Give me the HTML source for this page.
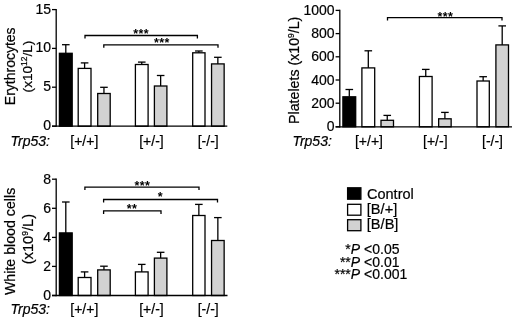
<!DOCTYPE html>
<html><head><meta charset="utf-8"><title>Figure</title>
<style>
html,body{margin:0;padding:0;background:#fff;}
svg{display:block;}
svg text{font-family:"Liberation Sans", Arial, sans-serif;fill:#000;stroke:#000;stroke-width:0.2px;}
</style></head><body>
<svg width="520" height="318" viewBox="0 0 520 318">
<rect width="520" height="318" fill="#fff"/>
<line x1="52.00" y1="9.60" x2="56.20" y2="9.60" stroke="#000" stroke-width="1.3"/>
<text x="51.00" y="13.60" font-size="14" text-anchor="end">15</text>
<line x1="52.00" y1="48.40" x2="56.20" y2="48.40" stroke="#000" stroke-width="1.3"/>
<text x="51.00" y="52.40" font-size="14" text-anchor="end">10</text>
<line x1="52.00" y1="87.20" x2="56.20" y2="87.20" stroke="#000" stroke-width="1.3"/>
<text x="51.00" y="91.20" font-size="14" text-anchor="end">5</text>
<line x1="52.00" y1="126.20" x2="56.20" y2="126.20" stroke="#000" stroke-width="1.3"/>
<text x="51.00" y="130.20" font-size="14" text-anchor="end">0</text>
<line x1="65.80" y1="53.30" x2="65.80" y2="44.70" stroke="#000" stroke-width="1.3"/>
<line x1="62.00" y1="44.70" x2="69.60" y2="44.70" stroke="#000" stroke-width="1.3"/>
<rect x="59.40" y="53.30" width="12.80" height="72.90" fill="#000" stroke="#000" stroke-width="1.3"/>
<line x1="84.60" y1="68.40" x2="84.60" y2="62.90" stroke="#000" stroke-width="1.3"/>
<line x1="80.80" y1="62.90" x2="88.40" y2="62.90" stroke="#000" stroke-width="1.3"/>
<rect x="78.20" y="68.40" width="12.80" height="57.80" fill="#fff" stroke="#000" stroke-width="1.3"/>
<line x1="103.95" y1="93.50" x2="103.95" y2="87.30" stroke="#000" stroke-width="1.3"/>
<line x1="100.15" y1="87.30" x2="107.75" y2="87.30" stroke="#000" stroke-width="1.3"/>
<rect x="97.70" y="93.50" width="12.50" height="32.70" fill="#d2d2d2" stroke="#000" stroke-width="1.3"/>
<line x1="141.75" y1="64.50" x2="141.75" y2="62.10" stroke="#000" stroke-width="1.3"/>
<line x1="137.95" y1="62.10" x2="145.55" y2="62.10" stroke="#000" stroke-width="1.3"/>
<rect x="135.40" y="64.50" width="12.70" height="61.70" fill="#fff" stroke="#000" stroke-width="1.3"/>
<line x1="160.65" y1="86.00" x2="160.65" y2="75.50" stroke="#000" stroke-width="1.3"/>
<line x1="156.85" y1="75.50" x2="164.45" y2="75.50" stroke="#000" stroke-width="1.3"/>
<rect x="154.40" y="86.00" width="12.50" height="40.20" fill="#d2d2d2" stroke="#000" stroke-width="1.3"/>
<line x1="198.85" y1="52.80" x2="198.85" y2="51.00" stroke="#000" stroke-width="1.3"/>
<line x1="195.05" y1="51.00" x2="202.65" y2="51.00" stroke="#000" stroke-width="1.3"/>
<rect x="192.70" y="52.80" width="12.30" height="73.40" fill="#fff" stroke="#000" stroke-width="1.3"/>
<line x1="217.85" y1="63.90" x2="217.85" y2="57.30" stroke="#000" stroke-width="1.3"/>
<line x1="214.05" y1="57.30" x2="221.65" y2="57.30" stroke="#000" stroke-width="1.3"/>
<rect x="211.55" y="63.90" width="12.60" height="62.30" fill="#d2d2d2" stroke="#000" stroke-width="1.3"/>
<line x1="56.20" y1="8.95" x2="56.20" y2="126.85" stroke="#000" stroke-width="1.3"/>
<line x1="52.00" y1="126.20" x2="227.30" y2="126.20" stroke="#000" stroke-width="1.3"/>
<polyline points="85.0,38.5 85.0,35.5 197.4,35.5 197.4,38.5" fill="none" stroke="#000" stroke-width="1.3"/>
<polyline points="103.8,47.8 103.8,44.8 218,44.8 218,47.8" fill="none" stroke="#000" stroke-width="1.3"/>
<text x="141.20" y="38.10" font-size="12.5" font-weight="bold" letter-spacing="0.4" stroke="none" text-anchor="middle" style="stroke:none">***</text>
<text x="161.90" y="47.20" font-size="12.5" font-weight="bold" letter-spacing="0.4" stroke="none" text-anchor="middle" style="stroke:none">***</text>
<text transform="translate(15,66.3) rotate(-90)" font-size="14" text-anchor="middle">Erythrocytes</text>
<text transform="translate(31.5,66.5) rotate(-90)" font-size="13.6" text-anchor="middle">(x10<tspan font-size="8.5" dy="-5">12</tspan><tspan dy="5">/L)</tspan></text>
<text x="10.50" y="146.40" font-size="14" text-anchor="start" font-style="italic">Trp53:</text>
<text x="84.30" y="146.40" font-size="14" text-anchor="middle">[+/+]</text>
<text x="151.50" y="146.40" font-size="14" text-anchor="middle">[+/-]</text>
<text x="208.20" y="146.40" font-size="14" text-anchor="middle">[-/-]</text>
<line x1="335.60" y1="10.40" x2="339.80" y2="10.40" stroke="#000" stroke-width="1.3"/>
<text x="334.60" y="15.00" font-size="14" text-anchor="end">1000</text>
<line x1="335.60" y1="33.60" x2="339.80" y2="33.60" stroke="#000" stroke-width="1.3"/>
<text x="334.60" y="38.20" font-size="14" text-anchor="end">800</text>
<line x1="335.60" y1="56.80" x2="339.80" y2="56.80" stroke="#000" stroke-width="1.3"/>
<text x="334.60" y="61.40" font-size="14" text-anchor="end">600</text>
<line x1="335.60" y1="80.00" x2="339.80" y2="80.00" stroke="#000" stroke-width="1.3"/>
<text x="334.60" y="84.60" font-size="14" text-anchor="end">400</text>
<line x1="335.60" y1="103.20" x2="339.80" y2="103.20" stroke="#000" stroke-width="1.3"/>
<text x="334.60" y="107.80" font-size="14" text-anchor="end">200</text>
<line x1="335.60" y1="126.80" x2="339.80" y2="126.80" stroke="#000" stroke-width="1.3"/>
<text x="334.60" y="131.40" font-size="14" text-anchor="end">0</text>
<line x1="349.30" y1="96.80" x2="349.30" y2="89.50" stroke="#000" stroke-width="1.3"/>
<line x1="345.50" y1="89.50" x2="353.10" y2="89.50" stroke="#000" stroke-width="1.3"/>
<rect x="342.90" y="96.80" width="12.80" height="30.00" fill="#000" stroke="#000" stroke-width="1.3"/>
<line x1="368.30" y1="67.90" x2="368.30" y2="50.80" stroke="#000" stroke-width="1.3"/>
<line x1="364.50" y1="50.80" x2="372.10" y2="50.80" stroke="#000" stroke-width="1.3"/>
<rect x="361.90" y="67.90" width="12.80" height="58.90" fill="#fff" stroke="#000" stroke-width="1.3"/>
<line x1="387.25" y1="120.30" x2="387.25" y2="115.40" stroke="#000" stroke-width="1.3"/>
<line x1="383.45" y1="115.40" x2="391.05" y2="115.40" stroke="#000" stroke-width="1.3"/>
<rect x="381.00" y="120.30" width="12.50" height="6.50" fill="#d2d2d2" stroke="#000" stroke-width="1.3"/>
<line x1="425.75" y1="76.50" x2="425.75" y2="69.40" stroke="#000" stroke-width="1.3"/>
<line x1="421.95" y1="69.40" x2="429.55" y2="69.40" stroke="#000" stroke-width="1.3"/>
<rect x="419.40" y="76.50" width="12.70" height="50.30" fill="#fff" stroke="#000" stroke-width="1.3"/>
<line x1="444.90" y1="118.80" x2="444.90" y2="112.40" stroke="#000" stroke-width="1.3"/>
<line x1="441.10" y1="112.40" x2="448.70" y2="112.40" stroke="#000" stroke-width="1.3"/>
<rect x="438.65" y="118.80" width="12.50" height="8.00" fill="#d2d2d2" stroke="#000" stroke-width="1.3"/>
<line x1="483.15" y1="81.00" x2="483.15" y2="76.70" stroke="#000" stroke-width="1.3"/>
<line x1="479.35" y1="76.70" x2="486.95" y2="76.70" stroke="#000" stroke-width="1.3"/>
<rect x="477.00" y="81.00" width="12.30" height="45.80" fill="#fff" stroke="#000" stroke-width="1.3"/>
<line x1="502.20" y1="44.90" x2="502.20" y2="25.90" stroke="#000" stroke-width="1.3"/>
<line x1="498.40" y1="25.90" x2="506.00" y2="25.90" stroke="#000" stroke-width="1.3"/>
<rect x="495.90" y="44.90" width="12.60" height="81.90" fill="#d2d2d2" stroke="#000" stroke-width="1.3"/>
<line x1="339.80" y1="9.75" x2="339.80" y2="127.45" stroke="#000" stroke-width="1.3"/>
<line x1="335.60" y1="126.80" x2="512.00" y2="126.80" stroke="#000" stroke-width="1.3"/>
<polyline points="387.5,20.6 387.5,17.6 502,17.6 502,20.6" fill="none" stroke="#000" stroke-width="1.3"/>
<text x="445.50" y="21.10" font-size="12.5" font-weight="bold" letter-spacing="0.4" stroke="none" text-anchor="middle" style="stroke:none">***</text>
<text transform="translate(298.6,70.3) rotate(-90)" font-size="14.2" text-anchor="middle">Platelets (x10<tspan font-size="8.5" dy="-5">9</tspan><tspan dy="5">/L)</tspan></text>
<text x="292.40" y="146.40" font-size="14" text-anchor="start" font-style="italic">Trp53:</text>
<text x="369.00" y="146.40" font-size="14" text-anchor="middle">[+/+]</text>
<text x="435.30" y="146.40" font-size="14" text-anchor="middle">[+/-]</text>
<text x="492.50" y="146.40" font-size="14" text-anchor="middle">[-/-]</text>
<line x1="52.00" y1="179.20" x2="56.20" y2="179.20" stroke="#000" stroke-width="1.3"/>
<text x="51.00" y="183.50" font-size="14" text-anchor="end">8</text>
<line x1="52.00" y1="208.30" x2="56.20" y2="208.30" stroke="#000" stroke-width="1.3"/>
<text x="51.00" y="212.60" font-size="14" text-anchor="end">6</text>
<line x1="52.00" y1="237.40" x2="56.20" y2="237.40" stroke="#000" stroke-width="1.3"/>
<text x="51.00" y="241.70" font-size="14" text-anchor="end">4</text>
<line x1="52.00" y1="266.40" x2="56.20" y2="266.40" stroke="#000" stroke-width="1.3"/>
<text x="51.00" y="270.70" font-size="14" text-anchor="end">2</text>
<line x1="52.00" y1="295.50" x2="56.20" y2="295.50" stroke="#000" stroke-width="1.3"/>
<text x="51.00" y="299.80" font-size="14" text-anchor="end">0</text>
<line x1="65.80" y1="232.90" x2="65.80" y2="202.00" stroke="#000" stroke-width="1.3"/>
<line x1="62.00" y1="202.00" x2="69.60" y2="202.00" stroke="#000" stroke-width="1.3"/>
<rect x="59.40" y="232.90" width="12.80" height="62.60" fill="#000" stroke="#000" stroke-width="1.3"/>
<line x1="84.60" y1="277.50" x2="84.60" y2="271.90" stroke="#000" stroke-width="1.3"/>
<line x1="80.80" y1="271.90" x2="88.40" y2="271.90" stroke="#000" stroke-width="1.3"/>
<rect x="78.20" y="277.50" width="12.80" height="18.00" fill="#fff" stroke="#000" stroke-width="1.3"/>
<line x1="103.95" y1="269.90" x2="103.95" y2="266.20" stroke="#000" stroke-width="1.3"/>
<line x1="100.15" y1="266.20" x2="107.75" y2="266.20" stroke="#000" stroke-width="1.3"/>
<rect x="97.70" y="269.90" width="12.50" height="25.60" fill="#d2d2d2" stroke="#000" stroke-width="1.3"/>
<line x1="141.75" y1="271.90" x2="141.75" y2="264.40" stroke="#000" stroke-width="1.3"/>
<line x1="137.95" y1="264.40" x2="145.55" y2="264.40" stroke="#000" stroke-width="1.3"/>
<rect x="135.40" y="271.90" width="12.70" height="23.60" fill="#fff" stroke="#000" stroke-width="1.3"/>
<line x1="160.65" y1="258.10" x2="160.65" y2="252.30" stroke="#000" stroke-width="1.3"/>
<line x1="156.85" y1="252.30" x2="164.45" y2="252.30" stroke="#000" stroke-width="1.3"/>
<rect x="154.40" y="258.10" width="12.50" height="37.40" fill="#d2d2d2" stroke="#000" stroke-width="1.3"/>
<line x1="198.85" y1="215.50" x2="198.85" y2="204.40" stroke="#000" stroke-width="1.3"/>
<line x1="195.05" y1="204.40" x2="202.65" y2="204.40" stroke="#000" stroke-width="1.3"/>
<rect x="192.70" y="215.50" width="12.30" height="80.00" fill="#fff" stroke="#000" stroke-width="1.3"/>
<line x1="217.85" y1="240.50" x2="217.85" y2="217.60" stroke="#000" stroke-width="1.3"/>
<line x1="214.05" y1="217.60" x2="221.65" y2="217.60" stroke="#000" stroke-width="1.3"/>
<rect x="211.55" y="240.50" width="12.60" height="55.00" fill="#d2d2d2" stroke="#000" stroke-width="1.3"/>
<line x1="56.20" y1="178.55" x2="56.20" y2="296.15" stroke="#000" stroke-width="1.3"/>
<line x1="52.00" y1="295.50" x2="227.50" y2="295.50" stroke="#000" stroke-width="1.3"/>
<polyline points="84.9,190.1 84.9,187.1 199,187.1 199,190.1" fill="none" stroke="#000" stroke-width="1.3"/>
<polyline points="103.6,202.5 103.6,199.5 217.5,199.5 217.5,202.5" fill="none" stroke="#000" stroke-width="1.3"/>
<polyline points="103.6,213.9 103.6,210.9 161,210.9 161,213.9" fill="none" stroke="#000" stroke-width="1.3"/>
<text x="142.50" y="189.70" font-size="12.5" font-weight="bold" letter-spacing="0.4" stroke="none" text-anchor="middle" style="stroke:none">***</text>
<text x="160.40" y="201.30" font-size="12.5" font-weight="bold" letter-spacing="0.4" stroke="none" text-anchor="middle" style="stroke:none">*</text>
<text x="132.00" y="213.30" font-size="12.5" font-weight="bold" letter-spacing="0.4" stroke="none" text-anchor="middle" style="stroke:none">**</text>
<text transform="translate(15,241.4) rotate(-90)" font-size="14.2" text-anchor="middle">White blood cells</text>
<text transform="translate(32.7,239.1) rotate(-90)" font-size="14.7" text-anchor="middle">(x10<tspan font-size="8.5" dy="-5">9</tspan><tspan dy="5">/L)</tspan></text>
<text x="10.50" y="313.60" font-size="14" text-anchor="start" font-style="italic">Trp53:</text>
<text x="84.30" y="313.60" font-size="14" text-anchor="middle">[+/+]</text>
<text x="151.50" y="313.60" font-size="14" text-anchor="middle">[+/-]</text>
<text x="208.20" y="313.60" font-size="14" text-anchor="middle">[-/-]</text>
<rect x="347.6" y="187.8" width="13.3" height="11.40" fill="#000" stroke="#000" stroke-width="1.3"/>
<rect x="347.6" y="204.3" width="13.3" height="10.90" fill="#fff" stroke="#000" stroke-width="1.3"/>
<rect x="347.6" y="219.7" width="13.3" height="11.00" fill="#d2d2d2" stroke="#000" stroke-width="1.3"/>
<text x="367.00" y="199.00" font-size="14.5" text-anchor="start">Control</text>
<text x="366.80" y="213.70" font-size="14.6" text-anchor="start">[B/+]</text>
<text x="366.80" y="228.70" font-size="14.6" text-anchor="start">[B/B]</text>
<text x="350.8" y="254.0" font-size="14" text-anchor="end">*</text>
<text x="350.8" y="254.0" font-size="14"><tspan font-style="italic">P</tspan> &lt;0.05</text>
<text x="350.8" y="266.5" font-size="14" text-anchor="end">**</text>
<text x="350.8" y="266.5" font-size="14"><tspan font-style="italic">P</tspan> &lt;0.01</text>
<text x="350.8" y="279.3" font-size="14" text-anchor="end">***</text>
<text x="350.8" y="279.3" font-size="14"><tspan font-style="italic">P</tspan> &lt;0.001</text>
</svg>
</body></html>
